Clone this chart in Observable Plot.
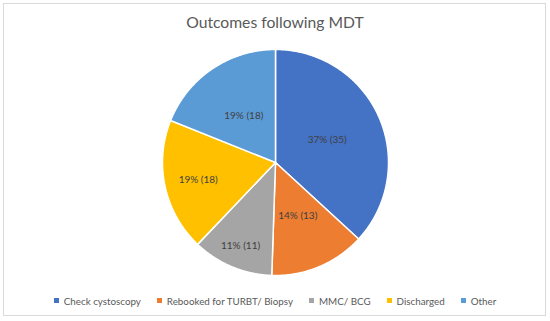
<!DOCTYPE html>
<html>
<head>
<meta charset="utf-8">
<script src="https://cdn.jsdelivr.net/npm/d3@7"></script>
<script src="https://cdn.jsdelivr.net/npm/@observablehq/plot@0.6"></script>
<style>
  html, body { margin: 0; padding: 0; background: #ffffff; }
  #wrap { position: relative; width: 550px; height: 321px; overflow: hidden; font-family: Lato, "Open Sans", sans-serif; }
  #frame { position: absolute; left: 3px; top: 3px; width: 541px; height: 311px; border: 1px solid #d9d9d9; }
  #title { position: absolute; left: 0; top: 13px; width: 550px; text-align: center; font-size: 15.7px; color: #595959; }
  #chart { position: absolute; left: 0; top: 0; }
  #legend { position: absolute; left: 0; top: 284px; width: 550px; display: flex; justify-content: center; }
  #legend span { margin-right: 16px !important; }
  #legend span:last-child { margin-right: 0 !important; }
  #legend span svg { margin-right: 5px !important; }
</style>
</head>
<body>
<div id="wrap">
  <div id="frame"></div>
  <div id="chart"></div>
  <div id="title">Outcomes following MDT</div>
  <div id="legend"></div>
</div>
<script>
const categories = ["Check cystoscopy", "Rebooked for TURBT/ Biopsy", "MMC/ BCG", "Discharged", "Other"];
const counts = [35, 13, 11, 18, 18];
const percentLabels = ["37%", "14%", "11%", "19%", "19%"];
const colors = ["#4472C4", "#ED7D31", "#A5A5A5", "#FFC000", "#5B9BD5"];
// label distance from centre as a fraction of radius (styling)
const labelRadius = [0.5, 0.51, 0.8, 0.7, 0.5];

const rows = categories.map((name, i) => ({name, value: counts[i], label: `${percentLabels[i]} (${counts[i]})`, lr: labelRadius[i]}));
const arcs = d3.pie().sort(null).value(d => d.value)(rows);

const pts = [];
arcs.forEach(a => {
  pts.push({name: a.data.name, x: 0, y: 0});
  const n = Math.max(2, Math.ceil((a.endAngle - a.startAngle) / (Math.PI / 360)));
  for (let k = 0; k <= n; k++) {
    const t = a.startAngle + (a.endAngle - a.startAngle) * k / n;
    pts.push({name: a.data.name, x: Math.sin(t), y: Math.cos(t)});
  }
});
const labels = arcs.map(a => {
  const m = (a.startAngle + a.endAngle) / 2;
  return {x: a.data.lr * Math.sin(m), y: a.data.lr * Math.cos(m), text: a.data.label};
});

const W = 550, H = 321, cx = 275, cy = 162, R = 113;
const chart = Plot.plot({
  width: W,
  height: H,
  marginLeft: cx - R,
  marginRight: W - cx - R,
  marginTop: cy - R,
  marginBottom: H - cy - R,
  x: {domain: [-1, 1], axis: null},
  y: {domain: [-1, 1], axis: null},
  color: {domain: categories, range: colors},
  style: {background: "transparent", fontFamily: "Lato, 'Open Sans', sans-serif"},
  marks: [
    Plot.line(pts, {x: "x", y: "y", z: "name", fill: "name", stroke: "white", strokeWidth: 1.5, strokeLinejoin: "round", curve: "linear-closed"}),
    Plot.text(labels, {x: "x", y: "y", text: "text", fill: "#404040", fontSize: 10})
  ]
});
document.getElementById("chart").appendChild(chart);

const legend = Plot.legend({
  color: {domain: categories, range: colors},
  swatchSize: 5,
  style: {fontFamily: "Lato, 'Open Sans', sans-serif", fontSize: "9.8px", color: "#595959", marginLeft: "0px"}
});
document.getElementById("legend").appendChild(legend);
</script>
</body>
</html>
